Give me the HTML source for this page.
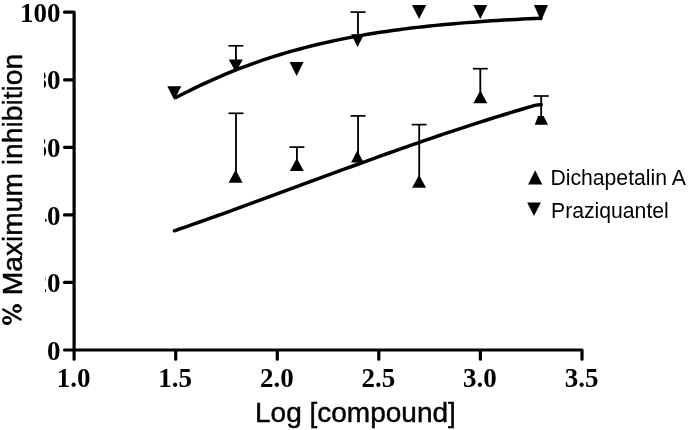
<!DOCTYPE html>
<html><head><meta charset="utf-8"><style>
html,body{margin:0;padding:0;background:#fff;}
svg{display:block;will-change:transform;}
.tl{font-family:"Liberation Serif",serif;font-weight:bold;font-size:27px;fill:#000;}
.at{font-family:"Liberation Sans",sans-serif;font-size:28px;fill:#000;stroke:#000;stroke-width:0.45px;}
.lg{font-family:"Liberation Sans",sans-serif;font-size:21.2px;fill:#000;}
</style></head><body>
<svg width="689" height="430" viewBox="0 0 689 430">
<rect width="689" height="430" fill="#fff"/>
<path d="M74.1,12.2 L74.1,359.1 M74.1,350.0 L582.0,350.0 M64.5,350.0 L74.1,350.0 M64.5,282.4 L74.1,282.4 M64.5,214.9 L74.1,214.9 M64.5,147.3 L74.1,147.3 M64.5,79.8 L74.1,79.8 M64.5,12.2 L74.1,12.2 M74.1,350.0 L74.1,359.2 M175.7,350.0 L175.7,359.2 M277.3,350.0 L277.3,359.2 M378.8,350.0 L378.8,359.2 M480.4,350.0 L480.4,359.2 M582.0,350.0 L582.0,359.2" fill="none" stroke="#000" stroke-width="3.2" stroke-linecap="round" stroke-linejoin="round"/>
<text x="60.5" y="359.6" text-anchor="end" class="tl">0</text>
<text x="60.5" y="292.0" text-anchor="end" class="tl">20</text>
<text x="60.5" y="224.5" text-anchor="end" class="tl">40</text>
<text x="60.5" y="156.9" text-anchor="end" class="tl">60</text>
<text x="60.5" y="89.4" text-anchor="end" class="tl">80</text>
<text x="60.5" y="21.8" text-anchor="end" class="tl">100</text>
<text x="73.6" y="387" text-anchor="middle" class="tl">1.0</text>
<text x="175.2" y="387" text-anchor="middle" class="tl">1.5</text>
<text x="276.8" y="387" text-anchor="middle" class="tl">2.0</text>
<text x="378.3" y="387" text-anchor="middle" class="tl">2.5</text>
<text x="479.9" y="387" text-anchor="middle" class="tl">3.0</text>
<text x="581.5" y="387" text-anchor="middle" class="tl">3.5</text>
<polyline points="176.00,97.51 182.19,94.31 188.37,91.19 194.56,88.15 200.75,85.20 206.93,82.33 213.12,79.54 219.31,76.83 225.49,74.21 231.68,71.68 237.86,69.22 244.05,66.85 250.24,64.56 256.42,62.34 262.61,60.21 268.80,58.15 274.98,56.17 281.17,54.26 287.36,52.42 293.54,50.66 299.73,48.96 305.92,47.33 312.10,45.77 318.29,44.27 324.47,42.83 330.66,41.45 336.85,40.13 343.03,38.87 349.22,37.65 355.41,36.49 361.59,35.38 367.78,34.32 373.97,33.31 380.15,32.34 386.34,31.42 392.53,30.53 398.71,29.69 404.90,28.88 411.08,28.11 417.27,27.38 423.46,26.68 429.64,26.01 435.83,25.38 442.02,24.77 448.20,24.19 454.39,23.64 460.58,23.12 466.76,22.62 472.95,22.14 479.14,21.69 485.32,21.26 491.51,20.85 497.69,20.45 503.88,20.08 510.07,19.73 516.25,19.39 522.44,19.07 528.63,18.77 534.81,18.48 541.00,18.20" fill="none" stroke="#000" stroke-width="3.5" stroke-linecap="round" stroke-linejoin="round"/>
<polyline points="174.40,230.80 180.51,228.69 186.62,226.56 192.74,224.43 198.85,222.27 204.96,220.11 211.07,217.94 217.18,215.75 223.29,213.56 229.41,211.35 235.52,209.14 241.63,206.92 247.74,204.70 253.85,202.46 259.97,200.23 266.08,197.98 272.19,195.73 278.30,193.48 284.41,191.23 290.53,188.98 296.64,186.72 302.75,184.46 308.86,182.21 314.97,179.95 321.08,177.70 327.20,175.45 333.31,173.20 339.42,170.96 345.53,168.73 351.64,166.49 357.76,164.27 363.87,162.05 369.98,159.84 376.09,157.64 382.20,155.45 388.32,153.27 394.43,151.10 400.54,148.94 406.65,146.79 412.76,144.65 418.87,142.53 424.99,140.42 431.10,138.33 437.21,136.25 443.32,134.18 449.43,132.14 455.55,130.10 461.66,128.09 467.77,126.09 473.88,124.11 479.99,122.15 486.11,120.21 492.22,118.28 498.33,116.38 504.44,114.49 510.55,112.63 516.66,110.79 522.78,108.96 528.89,107.16 535.00,105.38 541.2,104.6" fill="none" stroke="#000" stroke-width="3.5" stroke-linecap="round" stroke-linejoin="round"/>
<line x1="235.9" y1="66.0" x2="235.9" y2="45.8" stroke="#000" stroke-width="1.85"/><line x1="228.4" y1="45.8" x2="243.4" y2="45.8" stroke="#000" stroke-width="1.7"/>
<line x1="358.0" y1="40.0" x2="358.0" y2="12.1" stroke="#000" stroke-width="1.85"/><line x1="350.5" y1="12.1" x2="365.5" y2="12.1" stroke="#000" stroke-width="1.7"/>
<line x1="236.0" y1="176.0" x2="236.0" y2="113.3" stroke="#000" stroke-width="1.85"/><line x1="228.5" y1="113.3" x2="243.5" y2="113.3" stroke="#000" stroke-width="1.7"/>
<line x1="296.9" y1="165.0" x2="296.9" y2="147.1" stroke="#000" stroke-width="1.85"/><line x1="289.4" y1="147.1" x2="304.4" y2="147.1" stroke="#000" stroke-width="1.7"/>
<line x1="358.1" y1="157.0" x2="358.1" y2="115.9" stroke="#000" stroke-width="1.85"/><line x1="350.6" y1="115.9" x2="365.6" y2="115.9" stroke="#000" stroke-width="1.7"/>
<line x1="419.2" y1="181.0" x2="419.2" y2="124.6" stroke="#000" stroke-width="1.85"/><line x1="411.7" y1="124.6" x2="426.7" y2="124.6" stroke="#000" stroke-width="1.7"/>
<line x1="480.3" y1="97.0" x2="480.3" y2="68.7" stroke="#000" stroke-width="1.85"/><line x1="472.8" y1="68.7" x2="487.8" y2="68.7" stroke="#000" stroke-width="1.7"/>
<line x1="541.2" y1="118.0" x2="541.2" y2="96.0" stroke="#000" stroke-width="1.85"/><line x1="533.7" y1="96.0" x2="548.7" y2="96.0" stroke="#000" stroke-width="1.7"/>
<g fill="#000"><polygon points="167.3,86.3 181.3,86.3 174.3,100.1"/><polygon points="228.8,59.6 242.8,59.6 235.8,72.2"/><polygon points="289.6,61.9 303.6,61.9 296.6,75.9"/><polygon points="351.1,34.3 364.1,34.3 357.6,46.9"/><polygon points="412.0,5.0 426.2,5.0 419.1,19.0"/><polygon points="473.3,5.1 487.3,5.1 480.3,19.1"/><polygon points="534.0,5.1 548.0,5.1 541.0,21.1"/><polygon points="228.6,182.7 242.6,182.7 235.6,169.8"/><polygon points="289.8,170.9 303.8,170.9 296.8,158.3"/><polygon points="351.0,162.6 363.6,162.6 357.3,150.6"/><polygon points="412.1,187.7 426.1,187.7 419.1,175.1"/><polygon points="473.3,103.3 487.3,103.3 480.3,90.5"/><polygon points="534.8,124.7 548,124.7 543.6,116 538.1,116"/><polygon points="528.1,184.6 542.3,184.6 535.2,170.2"/><polygon points="527.2,202.5 540.9,202.5 534.0,216.1"/></g>
<text x="550.4" y="184.7" class="lg">Dichapetalin A</text>
<text x="551" y="218" class="lg">Praziquantel</text>
<rect x="0" y="30" width="44" height="305" fill="#fff"/><rect x="43" y="195" width="2" height="110" fill="#fff"/>
<text transform="translate(22.4,328.05) rotate(-90)" class="at" style="font-size:28.2px"><tspan style="fill:none;stroke:none">%</tspan> Maximum inhibition</text>
<path d="M12.40,308.50 a4.7,4.4 0 1,0 9.40,0 a4.7,4.4 0 1,0 -9.40,0 Z M14.20,308.65 a2.9,1.55 0 1,0 5.80,0 a2.9,1.55 0 1,0 -5.80,0 Z M2.10,320.45 a4.85,4.55 0 1,0 9.70,0 a4.85,4.55 0 1,0 -9.70,0 Z M3.90,320.30 a3.05,1.7 0 1,0 6.10,0 a3.05,1.7 0 1,0 -6.10,0 Z " fill="#000" fill-rule="evenodd"/><line x1="2.4" y1="309.1" x2="21.5" y2="319.9" stroke="#000" stroke-width="2.3"/>
<text x="255" y="421.6" class="at">Log [compound]</text>
</svg>
</body></html>
